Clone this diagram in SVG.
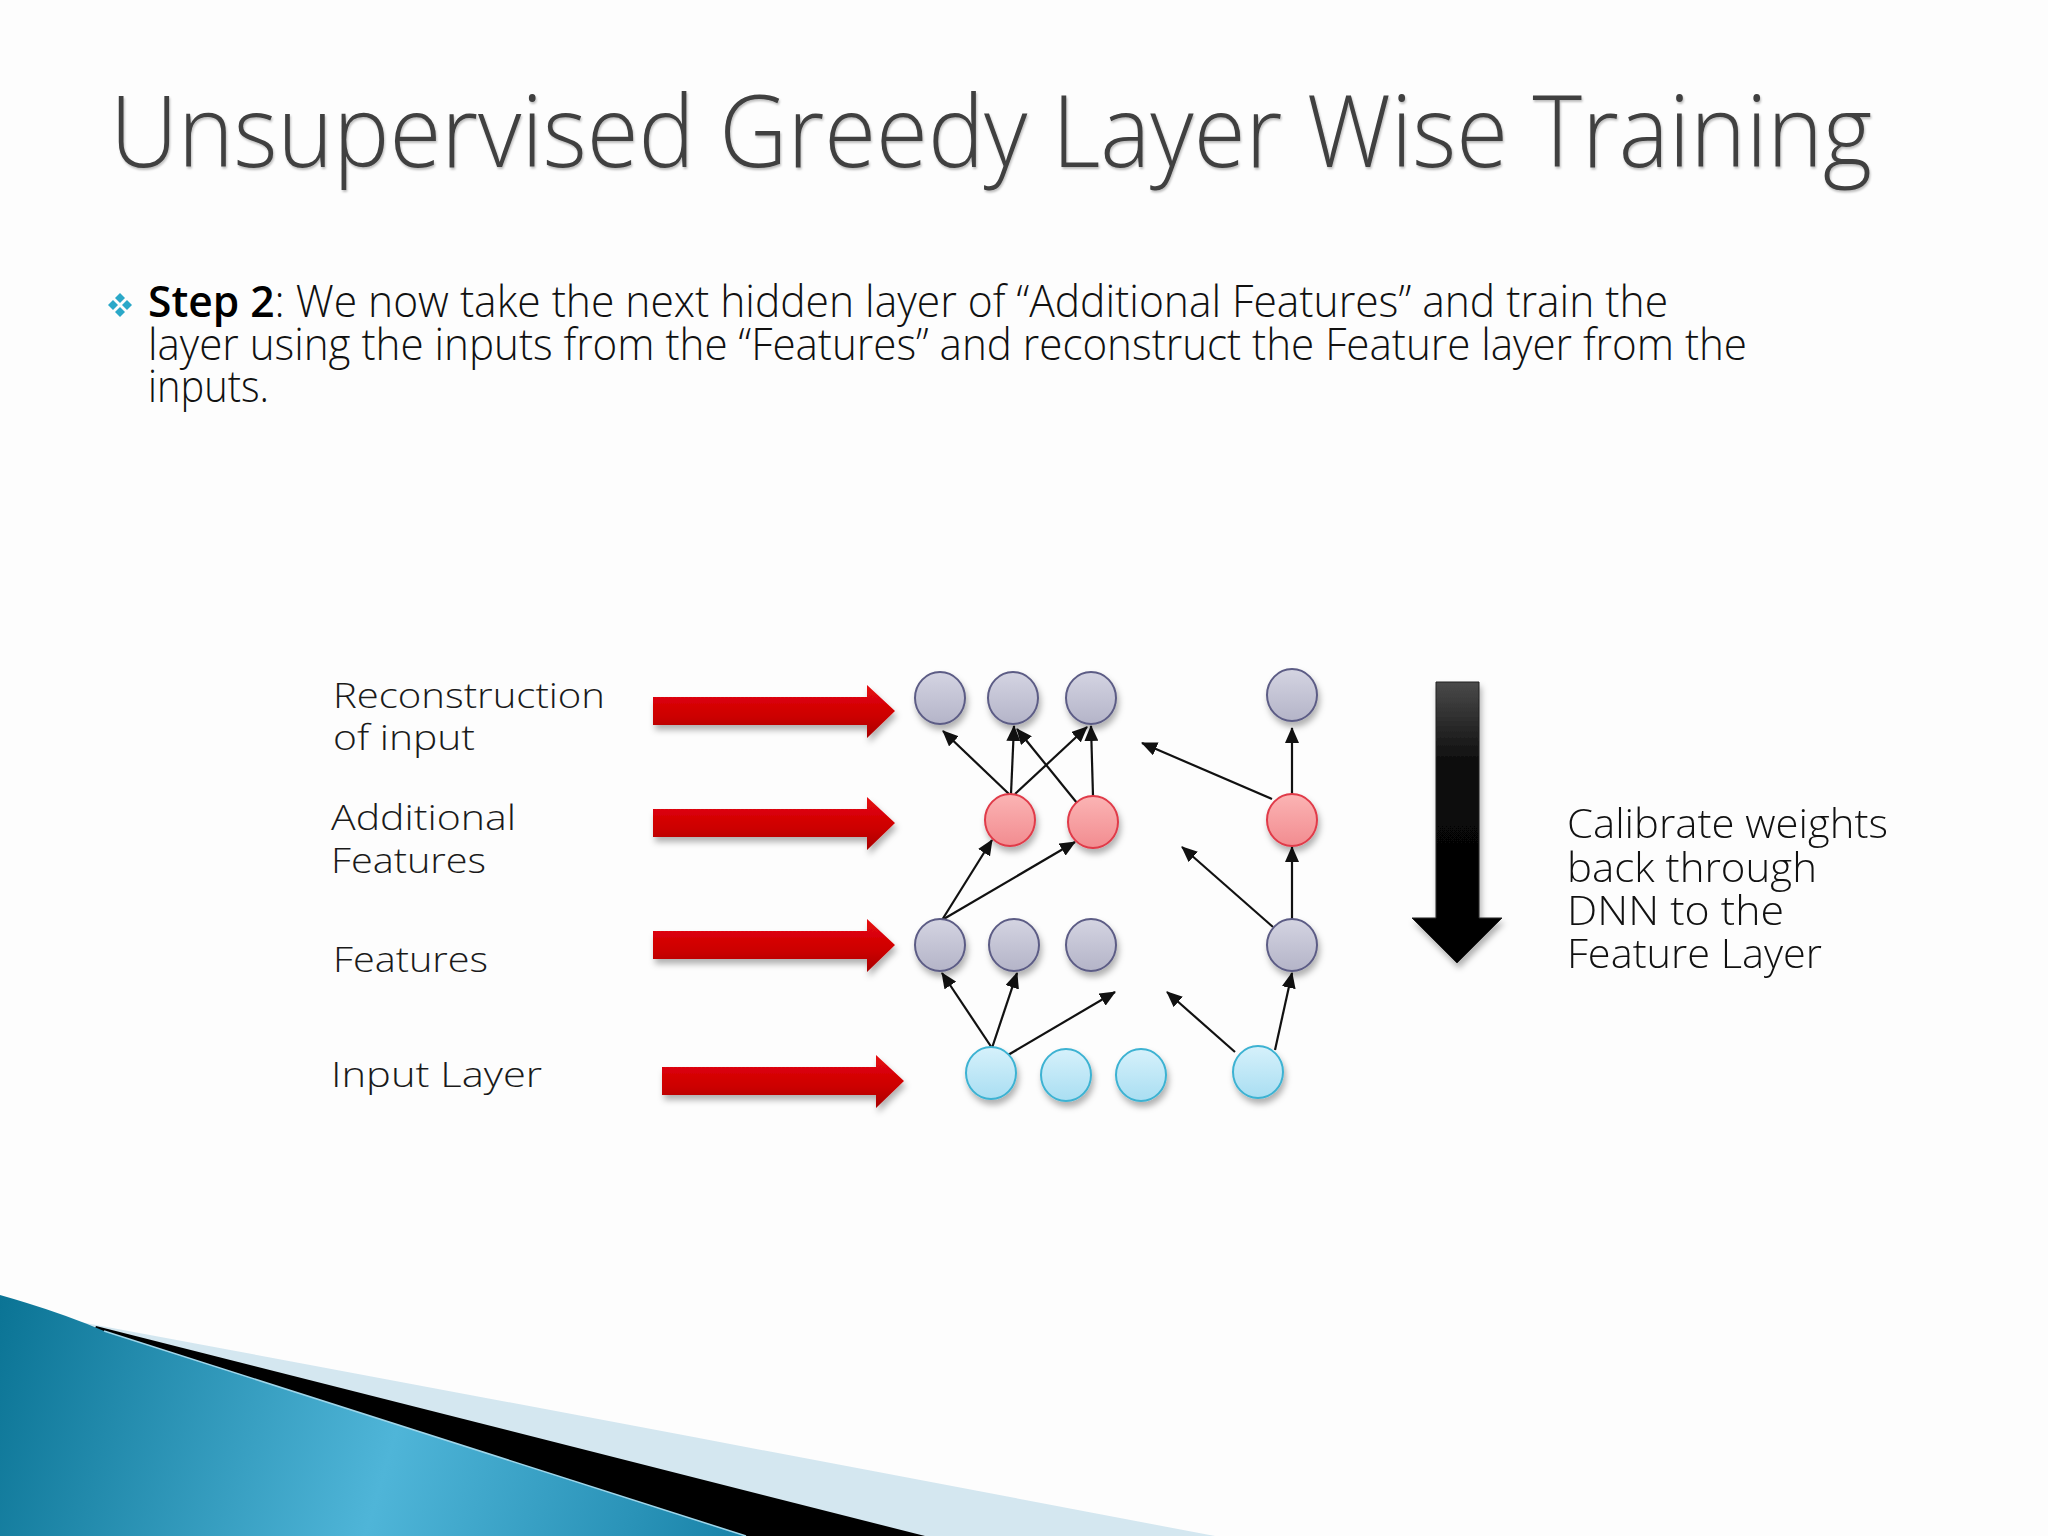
<svg xmlns="http://www.w3.org/2000/svg" width="2048" height="1536" viewBox="0 0 2048 1536">
<style>
.title{font-family:"Open Sans","Liberation Sans",sans-serif;font-weight:300;font-size:100px;fill:#404040}
.body{font-family:"Open Sans","Liberation Sans",sans-serif;font-weight:300;font-size:44px;fill:#111}
.bold{font-weight:600}
.lbl{font-family:"Open Sans","Liberation Sans",sans-serif;font-weight:300;font-size:34px;fill:#1a1a1a}
.rt{font-family:"Open Sans","Liberation Sans",sans-serif;font-weight:300;font-size:41px;fill:#111}
.gray{fill:url(#gGray);stroke:#5c5c85;stroke-width:2}
.red{fill:url(#gRed);stroke:#e03a48;stroke-width:2}
.blue{fill:url(#gBlue);stroke:#3cb2d2;stroke-width:2}
.edge{stroke:#111;stroke-width:2.2;fill:none;marker-end:url(#ah)}
.rarrow{fill:url(#gRArrow)}
</style>
<defs>
<linearGradient id="gGray" x1="0" y1="0" x2="0" y2="1"><stop offset="0" stop-color="#d4d4e2"/><stop offset="1" stop-color="#b4b4c8"/></linearGradient>
<linearGradient id="gRed" x1="0" y1="0" x2="0" y2="1"><stop offset="0" stop-color="#fbb4b4"/><stop offset="1" stop-color="#f28c90"/></linearGradient>
<linearGradient id="gBlue" x1="0" y1="0" x2="0" y2="1"><stop offset="0" stop-color="#d6f1fb"/><stop offset="1" stop-color="#a9def2"/></linearGradient>
<linearGradient id="gRArrow" x1="0" y1="0" x2="0" y2="1"><stop offset="0" stop-color="#e60a10"/><stop offset="0.6" stop-color="#cc0000"/><stop offset="1" stop-color="#a80000"/></linearGradient>
<linearGradient id="gBlack" x1="0" y1="0" x2="0" y2="1"><stop offset="0" stop-color="#4a4a4a"/><stop offset="0.3" stop-color="#0a0a0a"/><stop offset="1" stop-color="#000"/></linearGradient>
<linearGradient id="gWedge" x1="0" y1="1300" x2="800" y2="1536" gradientUnits="userSpaceOnUse"><stop offset="0" stop-color="#0b7495"/><stop offset="0.5" stop-color="#4fb5d8"/><stop offset="0.8" stop-color="#2a93b8"/><stop offset="1" stop-color="#0f7aa0"/></linearGradient>
<filter id="sh" x="-30%" y="-30%" width="160%" height="180%"><feDropShadow dx="2" dy="5" stdDeviation="3" flood-color="#000" flood-opacity="0.3"/></filter>
<filter id="tsh" x="-5%" y="-20%" width="110%" height="140%"><feDropShadow dx="1" dy="2" stdDeviation="1.2" flood-color="#000" flood-opacity="0.25"/></filter>
<marker id="ah" markerUnits="userSpaceOnUse" markerWidth="16" markerHeight="14" viewBox="0 0 16 14" refX="15" refY="7" orient="auto"><path d="M0,0 L16,7 L0,14 Z" fill="#111"/></marker>
<path id="redArrow" d="M0,-14 L214,-14 L214,-26 L242,0 L214,27 L214,14 L0,14 Z"/>
<path id="dia" d="M0,-5 L5,0 L0,5 L-5,0 Z"/>
</defs>
<rect width="2048" height="1536" fill="#fdfdfd"/>

<g id="title"><text class="title" x="110" y="167" textLength="1762" lengthAdjust="spacingAndGlyphs" filter="url(#tsh)">Unsupervised Greedy Layer Wise Training</text></g>

<g id="bullet-text">
<g fill="#2aa8c8">
<use href="#dia" x="120" y="298"/><use href="#dia" x="113" y="305"/><use href="#dia" x="127" y="305"/><use href="#dia" x="120" y="312"/>
</g>
<text class="body" x="148" y="317" textLength="1520" lengthAdjust="spacingAndGlyphs"><tspan class="bold" fill="#000">Step 2</tspan>: We now take the next hidden layer of “Additional Features” and train the</text>
<text class="body" x="148" y="360" textLength="1599" lengthAdjust="spacingAndGlyphs">layer using the inputs from the “Features” and reconstruct the Feature layer from the</text>
<text class="body" x="148" y="402" textLength="121" lengthAdjust="spacingAndGlyphs">inputs.</text>
</g>

<g id="labels">
<text class="lbl" x="333" y="708" textLength="272" lengthAdjust="spacingAndGlyphs">Reconstruction</text>
<text class="lbl" x="333" y="750" textLength="142" lengthAdjust="spacingAndGlyphs">of input</text>
<text class="lbl" x="331" y="830" textLength="185" lengthAdjust="spacingAndGlyphs">Additional</text>
<text class="lbl" x="331" y="873" textLength="155" lengthAdjust="spacingAndGlyphs">Features</text>
<text class="lbl" x="333" y="972" textLength="155" lengthAdjust="spacingAndGlyphs">Features</text>
<text class="lbl" x="331" y="1087" textLength="211" lengthAdjust="spacingAndGlyphs">Input Layer</text>
</g>

<g id="layer-arrows" filter="url(#sh)">
<use href="#redArrow" class="rarrow" x="653" y="711"/>
<use href="#redArrow" class="rarrow" x="653" y="823"/>
<use href="#redArrow" class="rarrow" x="653" y="945"/>
<use href="#redArrow" class="rarrow" x="662" y="1081"/>
</g>

<g id="connectors">
<line class="edge" x1="1009" y1="794" x2="943" y2="731"/>
<line class="edge" x1="1011" y1="794" x2="1014" y2="726"/>
<line class="edge" x1="1015" y1="794" x2="1087" y2="727"/>
<line class="edge" x1="1077" y1="803" x2="1017" y2="729"/>
<line class="edge" x1="1093" y1="796" x2="1091" y2="726"/>
<line class="edge" x1="1272" y1="799" x2="1142" y2="743"/>
<line class="edge" x1="1292" y1="794" x2="1292" y2="728"/>
<line class="edge" x1="942" y1="920" x2="992" y2="840"/>
<line class="edge" x1="942" y1="920" x2="1075" y2="842"/>
<line class="edge" x1="1273" y1="927" x2="1182" y2="847"/>
<line class="edge" x1="1292" y1="920" x2="1292" y2="847"/>
<line class="edge" x1="992" y1="1048" x2="942" y2="973"/>
<line class="edge" x1="992" y1="1048" x2="1017" y2="973"/>
<line class="edge" x1="1008" y1="1055" x2="1115" y2="992"/>
<line class="edge" x1="1235" y1="1052" x2="1167" y2="992"/>
<line class="edge" x1="1275" y1="1050" x2="1292" y2="973"/>
</g>

<g id="nodes" filter="url(#sh)">
<g id="rec1"><ellipse class="gray" cx="940" cy="698" rx="25" ry="26"/></g>
<g id="rec2"><ellipse class="gray" cx="1013" cy="698" rx="25" ry="26"/></g>
<g id="rec3"><ellipse class="gray" cx="1091" cy="698" rx="25" ry="26"/></g>
<g id="rec4"><ellipse class="gray" cx="1292" cy="695" rx="25" ry="26"/></g>
<g id="add1"><ellipse class="red" cx="1010" cy="820" rx="25" ry="26"/></g>
<g id="add2"><ellipse class="red" cx="1093" cy="822" rx="25" ry="26"/></g>
<g id="add3"><ellipse class="red" cx="1292" cy="820" rx="25" ry="26"/></g>
<g id="feat1"><ellipse class="gray" cx="940" cy="945" rx="25" ry="26"/></g>
<g id="feat2"><ellipse class="gray" cx="1014" cy="945" rx="25" ry="26"/></g>
<g id="feat3"><ellipse class="gray" cx="1091" cy="945" rx="25" ry="26"/></g>
<g id="feat4"><ellipse class="gray" cx="1292" cy="945" rx="25" ry="26"/></g>
<g id="in1"><ellipse class="blue" cx="991" cy="1073" rx="25" ry="26"/></g>
<g id="in2"><ellipse class="blue" cx="1066" cy="1075" rx="25" ry="26"/></g>
<g id="in3"><ellipse class="blue" cx="1141" cy="1075" rx="25" ry="26"/></g>
<g id="in4"><ellipse class="blue" cx="1258" cy="1072" rx="25" ry="26"/></g>
</g>

<g id="calibrate-arrow" filter="url(#sh)">
<path d="M1436,682 L1479,682 L1479,918 L1502,918 L1457,963 L1412,918 L1436,918 Z" fill="url(#gBlack)" stroke="#222" stroke-width="1"/>
</g>

<g id="calibrate-text">
<text class="rt" x="1567" y="838" textLength="321" lengthAdjust="spacingAndGlyphs">Calibrate weights</text>
<text class="rt" x="1567" y="882" textLength="250" lengthAdjust="spacingAndGlyphs">back through</text>
<text class="rt" x="1567" y="925" textLength="217" lengthAdjust="spacingAndGlyphs">DNN to the</text>
<text class="rt" x="1567" y="968" textLength="255" lengthAdjust="spacingAndGlyphs">Feature Layer</text>
</g>

<g id="decoration">
<path d="M80,1322 Q 500,1400 1215,1536 L0,1536 Z" fill="#d4e7f0"/>
<path d="M96,1326 L925,1536 L0,1536 Z" fill="#000"/>
<path d="M0,1295 Q 60,1312 104,1331 L746,1536 L0,1536 Z" fill="url(#gWedge)"/>
<path d="M104,1331 L746,1536" stroke="#9fd6ea" stroke-width="1.5" fill="none"/>
</g>
</svg>
